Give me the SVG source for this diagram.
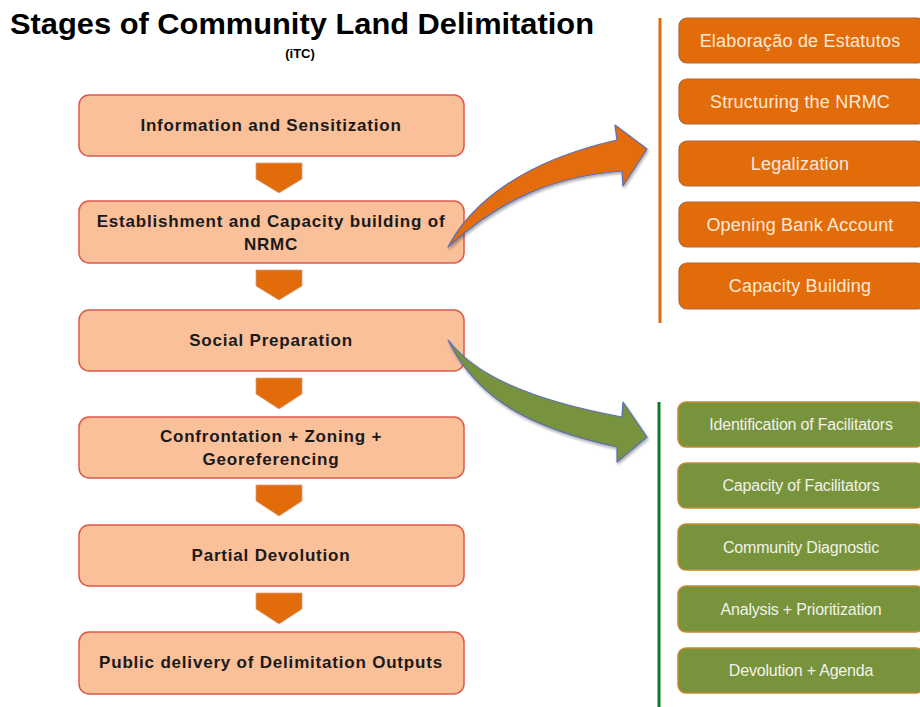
<svg xmlns="http://www.w3.org/2000/svg" width="920" height="707" viewBox="0 0 920 707">
  <defs>
    <style>
      .stage rect { fill: #FAC09A; stroke: #E0584C; stroke-width: 1.5; }
      .stage text { font-family: "Liberation Sans", Arial, sans-serif; font-weight: bold; font-size: 17px; fill: #1a1a1a; text-anchor: middle; letter-spacing: 0.8px; }
      .chev { fill: #E36C0A; stroke: #D9A080; stroke-width: 0.8; }
      .org rect { fill: #E36C0A; stroke: #A8683C; stroke-width: 1.2; }
      .org text { font-family: "Liberation Sans", Arial, sans-serif; font-size: 18px; fill: #FCE8D8; text-anchor: middle; letter-spacing: 0.2px; }
      .grn rect { fill: #77933C; stroke: #C68A34; stroke-width: 1.5; }
      .grn text { font-family: "Liberation Sans", Arial, sans-serif; font-size: 16px; fill: #F2F2EA; text-anchor: middle; letter-spacing: -0.2px; }
      .title { font-family: "Liberation Sans", Arial, sans-serif; font-weight: bold; fill: #000; }
      .curve { stroke: #5A6FB8; stroke-width: 1.2; stroke-linejoin: round; }
    </style>
    <filter id="glow" x="-10%" y="-10%" width="120%" height="120%">
      <feGaussianBlur in="SourceAlpha" stdDeviation="1.5"/>
      <feOffset dx="1" dy="1.5"/>
      <feComponentTransfer><feFuncA type="linear" slope="0.35"/></feComponentTransfer>
      <feMerge><feMergeNode/><feMergeNode in="SourceGraphic"/></feMerge>
    </filter>
  </defs>

  <rect width="920" height="707" fill="#ffffff"/>

  <!-- heading -->
  <text class="title" x="10" y="34" font-size="30" textLength="584" lengthAdjust="spacingAndGlyphs">Stages of Community Land Delimitation</text>
  <text class="title" x="300" y="58" font-size="13" text-anchor="middle">(iTC)</text>

  <!-- main stages -->
  <g id="stage1" class="stage">
    <rect x="79" y="95" width="385" height="61" rx="10"/>
    <text x="271" y="131">Information and Sensitization</text>
  </g>
  <g id="stage2" class="stage">
    <rect x="79" y="201" width="385" height="62" rx="10"/>
    <text x="271" y="227">Establishment and Capacity building of</text>
    <text x="271" y="250">NRMC</text>
  </g>
  <g id="stage3" class="stage">
    <rect x="79" y="310" width="385" height="61" rx="10"/>
    <text x="271" y="346">Social Preparation</text>
  </g>
  <g id="stage4" class="stage">
    <rect x="79" y="417" width="385" height="61" rx="10"/>
    <text x="271" y="442">Confrontation + Zoning +</text>
    <text x="271" y="465">Georeferencing</text>
  </g>
  <g id="stage5" class="stage">
    <rect x="79" y="525" width="385" height="61" rx="10"/>
    <text x="271" y="561">Partial Devolution</text>
  </g>
  <g id="stage6" class="stage">
    <rect x="79" y="632" width="385" height="62" rx="10"/>
    <text x="271" y="668">Public delivery of Delimitation Outputs</text>
  </g>

  <!-- connectors -->
  <g id="connectors">
    <path class="chev" d="M256 163 H302 V179 L279 193 L256 179 Z"/>
    <path class="chev" d="M256 270 H302 V286 L279 300 L256 286 Z"/>
    <path class="chev" d="M256 378 H302 V394 L279 409 L256 394 Z"/>
    <path class="chev" d="M256 485 H302 V501 L279 516 L256 501 Z"/>
    <path class="chev" d="M256 593 H302 V609 L279 624 L256 609 Z"/>

    <!-- curved arrow to NRMC sub-steps -->
    <path class="curve" filter="url(#glow)" fill="#E36C0A"
          d="M448 247 C470 205 520 162 617 140 L615 125 L647 149 L623 186 L622 171 C560 176 505 195 448 247 Z"/>
    <!-- curved arrow to social preparation sub-steps -->
    <path class="curve" filter="url(#glow)" fill="#77933C"
          d="M448 340 C475 375 530 400 622 417 L623 402 L647 437 L617 462 L617 447 C540 430 480 405 448 340 Z"/>
  </g>

  <!-- NRMC sub-steps -->
  <rect x="658.5" y="18" width="3" height="305" fill="#E36C0A"/>
  <g id="nrmc1" class="org">
    <rect x="679" y="18" width="246" height="45" rx="8"/>
    <text x="800" y="47">Elaboração de Estatutos</text>
  </g>
  <g id="nrmc2" class="org">
    <rect x="679" y="79" width="246" height="45" rx="8"/>
    <text x="800" y="108">Structuring the NRMC</text>
  </g>
  <g id="nrmc3" class="org">
    <rect x="679" y="141" width="246" height="45" rx="8"/>
    <text x="800" y="170">Legalization</text>
  </g>
  <g id="nrmc4" class="org">
    <rect x="679" y="202" width="246" height="45" rx="8"/>
    <text x="800" y="231">Opening Bank Account</text>
  </g>
  <g id="nrmc5" class="org">
    <rect x="679" y="263" width="246" height="46" rx="8"/>
    <text x="800" y="292">Capacity Building</text>
  </g>

  <!-- social preparation sub-steps -->
  <rect x="657.5" y="402" width="3" height="305" fill="#0E7A1E"/>
  <g id="soc1" class="grn">
    <rect x="678" y="402" width="246" height="45" rx="8"/>
    <text x="801" y="430">Identification of Facilitators</text>
  </g>
  <g id="soc2" class="grn">
    <rect x="678" y="463" width="246" height="45" rx="8"/>
    <text x="801" y="491">Capacity of Facilitators</text>
  </g>
  <g id="soc3" class="grn">
    <rect x="678" y="524" width="246" height="46" rx="8"/>
    <text x="801" y="553">Community Diagnostic</text>
  </g>
  <g id="soc4" class="grn">
    <rect x="678" y="586" width="246" height="46" rx="8"/>
    <text x="801" y="615">Analysis + Prioritization</text>
  </g>
  <g id="soc5" class="grn">
    <rect x="678" y="648" width="246" height="45" rx="8"/>
    <text x="801" y="676">Devolution + Agenda</text>
  </g>
</svg>
